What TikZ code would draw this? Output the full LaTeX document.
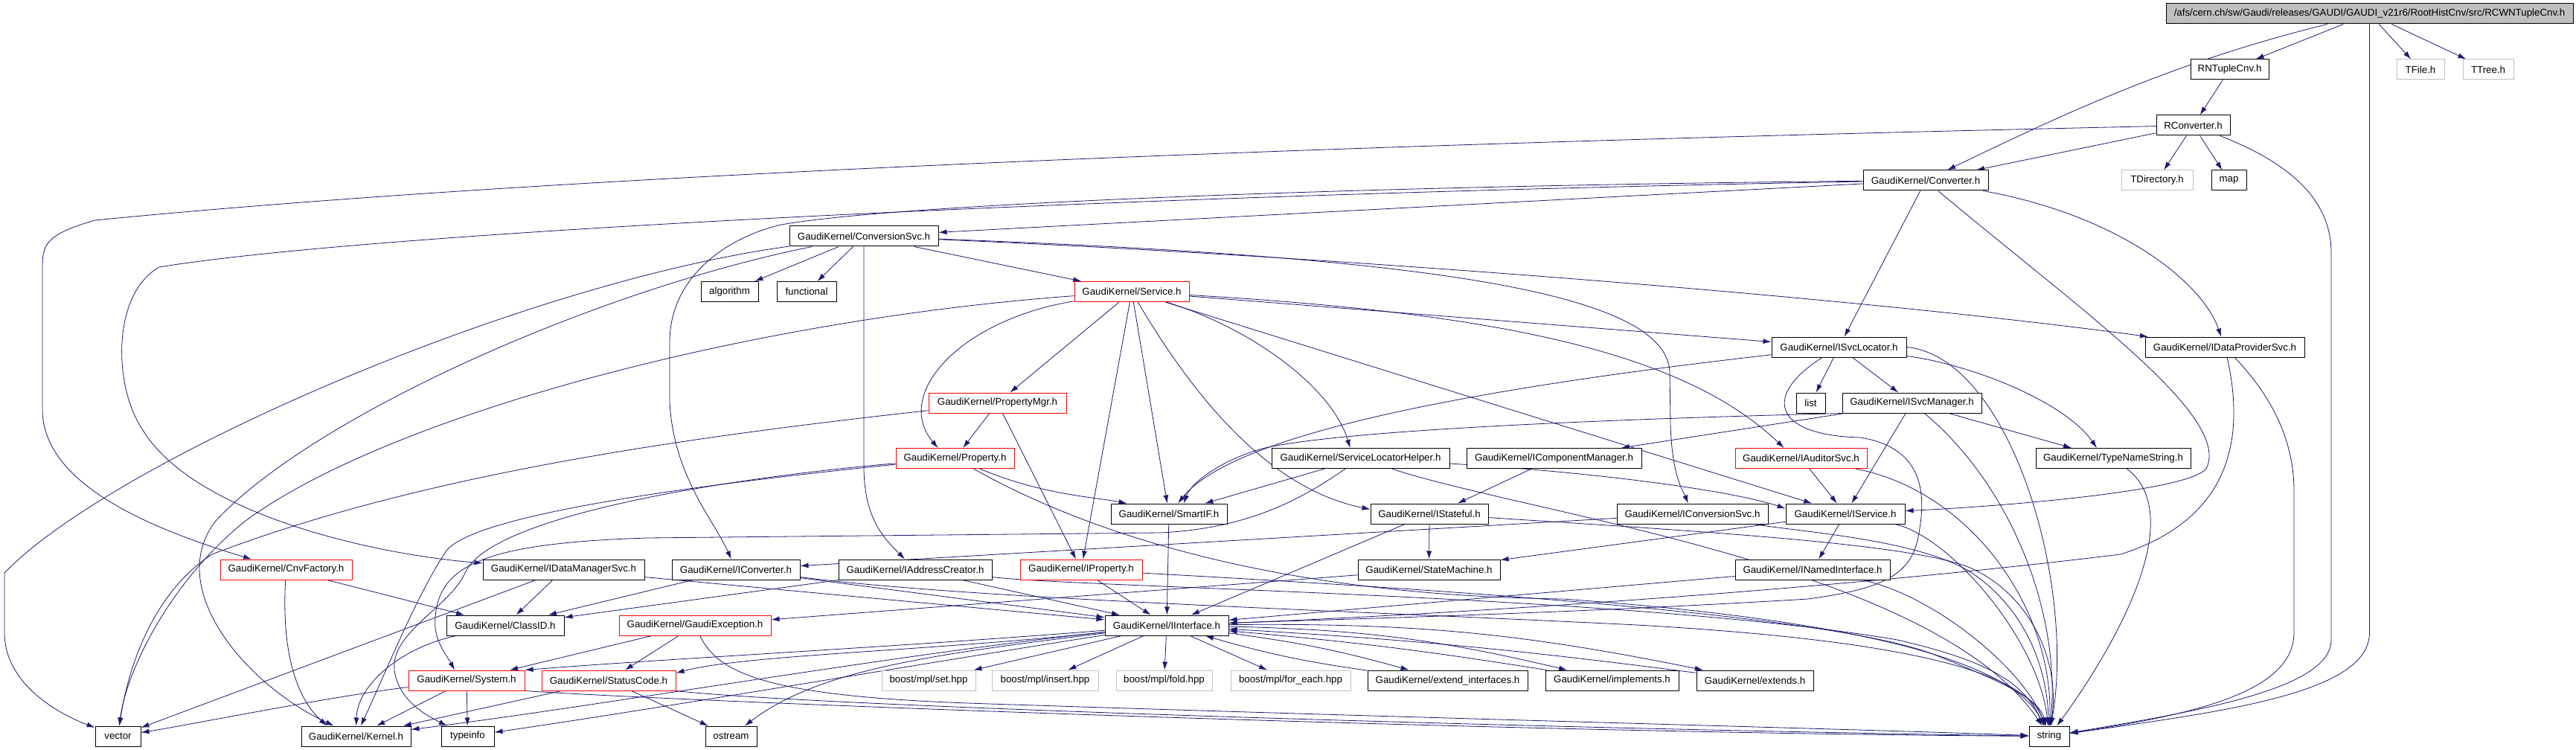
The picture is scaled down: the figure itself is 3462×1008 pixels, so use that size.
\documentclass[tikz,border=0pt]{standalone}
\usepackage{fontspec}
\setmainfont{Liberation Sans}
\usetikzlibrary{arrows.meta}
\definecolor{edgeblue}{HTML}{191970}
\definecolor{sysgray}{HTML}{BFBFBF}
\newcommand{\hdrfont}{\fontsize{13.3}{16}\selectfont}
\pgfdeclarelayer{edges}
\pgfsetlayers{edges,main}
\tikzset{
  hdr/.style={draw=black, fill=white, line width=1pt, minimum height=27pt, inner sep=0pt, font=\hdrfont},
  hdrtrunc/.style={hdr, draw=red},
  hdrsys/.style={hdr, draw=sysgray},
  inc/.style={draw=edgeblue, line width=0.8pt, -{Latex[length=11pt,width=7pt]}}
}
\begin{document}
\begin{tikzpicture}[x=1pt, y=-1pt]
\useasboundingbox (0,0) rectangle (3462,1008);
\node (root) [hdr, fill=sysgray, minimum width=547pt] at (3184.5,18.5) {/afs/cern.ch/sw/Gaudi/releases/GAUDI/GAUDI\_v21r6/RootHistCnv/src/RCWNTupleCnv.h};
\node (rntuple) [hdr, minimum width=105pt] at (2996.5,93.5) {RNTupleCnv.h};
\node (tfile) [hdrsys, minimum width=64pt] at (3253,93.5) {TFile.h};
\node (ttree) [hdrsys, minimum width=68pt] at (3344,93.5) {TTree.h};
\node (rconv) [hdr, minimum width=99pt] at (2947.5,168.5) {RConverter.h};
\node (converter) [hdr, minimum width=168pt] at (2588,242.5) {GaudiKernel/Converter.h};
\node (tdir) [hdrsys, minimum width=96pt] at (2899,242.5) {TDirectory.h};
\node (map) [hdr, minimum width=47pt] at (2995.5,242.5) {map};
\node (convsvc) [hdr, minimum width=200pt] at (1161,317.5) {GaudiKernel/ConversionSvc.h};
\node (algorithm) [hdr, minimum width=77pt] at (980.5,392) {algorithm};
\node (functional) [hdr, minimum width=80pt] at (1084,392) {functional};
\node (service) [hdrtrunc, minimum width=154pt] at (1521,392) {GaudiKernel/Service.h};
\node (svcloc) [hdr, minimum width=181pt] at (2471.5,466.5) {GaudiKernel/ISvcLocator.h};
\node (dataprov) [hdr, minimum width=214pt] at (2990,466.5) {GaudiKernel/IDataProviderSvc.h};
\node (propmgr) [hdrtrunc, minimum width=185pt] at (1340.5,541.5) {GaudiKernel/PropertyMgr.h};
\node (list) [hdr, minimum width=39pt] at (2433.5,541.5) {list};
\node (svcmgr) [hdr, minimum width=187pt] at (2569.5,541.5) {GaudiKernel/ISvcManager.h};
\node (property) [hdrtrunc, minimum width=159pt] at (1283.5,616) {GaudiKernel/Property.h};
\node (slhelper) [hdr, minimum width=239pt] at (1828.5,616) {GaudiKernel/ServiceLocatorHelper.h};
\node (compmgr) [hdr, minimum width=235pt] at (2088.5,616) {GaudiKernel/IComponentManager.h};
\node (auditsvc) [hdrtrunc, minimum width=177pt] at (2420.5,616) {GaudiKernel/IAuditorSvc.h};
\node (typename) [hdr, minimum width=208pt] at (2840,616) {GaudiKernel/TypeNameString.h};
\node (smartif) [hdr, minimum width=156pt] at (1571,690.5) {GaudiKernel/SmartIF.h};
\node (stateful) [hdr, minimum width=158pt] at (1921,690.5) {GaudiKernel/IStateful.h};
\node (iconvsvc) [hdr, minimum width=203pt] at (2274.5,690.5) {GaudiKernel/IConversionSvc.h};
\node (iservice) [hdr, minimum width=160pt] at (2480,690.5) {GaudiKernel/IService.h};
\node (cnvfactory) [hdrtrunc, minimum width=177pt] at (384.5,765.5) {GaudiKernel/CnvFactory.h};
\node (datamgr) [hdr, minimum width=217pt] at (757.5,765.5) {GaudiKernel/IDataManagerSvc.h};
\node (iconverter) [hdr, minimum width=172pt] at (989,765.5) {GaudiKernel/IConverter.h};
\node (addrcreator) [hdr, minimum width=206pt] at (1230,765.5) {GaudiKernel/IAddressCreator.h};
\node (iproperty) [hdrtrunc, minimum width=164pt] at (1453,765.5) {GaudiKernel/IProperty.h};
\node (statemachine) [hdr, minimum width=191pt] at (1920.5,765.5) {GaudiKernel/StateMachine.h};
\node (namediface) [hdr, minimum width=208pt] at (2436,765.5) {GaudiKernel/INamedInterface.h};
\node (classid) [hdr, minimum width=158pt] at (679,840.5) {GaudiKernel/ClassID.h};
\node (gaudiexc) [hdrtrunc, minimum width=204pt] at (934,840.5) {GaudiKernel/GaudiException.h};
\node (iiface) [hdr, minimum width=166pt] at (1568,840.5) {GaudiKernel/IInterface.h};
\node (system) [hdrtrunc, minimum width=156pt] at (627,914.5) {GaudiKernel/System.h};
\node (statuscode) [hdrtrunc, minimum width=180pt] at (818,914.5) {GaudiKernel/StatusCode.h};
\node (mplset) [hdrsys, minimum width=126pt] at (1248,914.5) {boost/mpl/set.hpp};
\node (mplinsert) [hdrsys, minimum width=143pt] at (1404.5,914.5) {boost/mpl/insert.hpp};
\node (mplfold) [hdrsys, minimum width=129pt] at (1564.5,914.5) {boost/mpl/fold.hpp};
\node (mplforeach) [hdrsys, minimum width=161pt] at (1734.5,914.5) {boost/mpl/for\_each.hpp};
\node (extif) [hdr, minimum width=215pt] at (1945.5,914.5) {GaudiKernel/extend\_interfaces.h};
\node (implements) [hdr, minimum width=179pt] at (2166.5,914.5) {GaudiKernel/implements.h};
\node (extends) [hdr, minimum width=157pt] at (2358.5,914.5) {GaudiKernel/extends.h};
\node (vector) [hdr, minimum width=61pt] at (158.5,989.5) {vector};
\node (kernel) [hdr, minimum width=147pt] at (478.5,989.5) {GaudiKernel/Kernel.h};
\node (typeinfo) [hdr, minimum width=71pt] at (628.5,989.5) {typeinfo};
\node (ostream) [hdr, minimum width=69pt] at (982.5,989.5) {ostream};
\node (string) [hdr, minimum width=54pt] at (2754,989.5) {string};
\begin{pgfonlayer}{edges}
\draw[inc] (root) -- (rntuple);
\draw[inc] (root) -- (tfile);
\draw[inc] (root) -- (ttree);
\draw[inc] (root) .. controls (2923,83) and (2780,150) .. (converter);
\draw[inc] (root.south) -- (3184.5,850) .. controls (3184.5,930) and (3000,955) .. (string);
\draw[inc] (rntuple) -- (rconv);
\draw[inc] (rconv) -- (converter);
\draw[inc] (rconv) -- (tdir);
\draw[inc] (rconv) -- (map);
\draw[inc] (rconv) .. controls (3080,220) and (3133,270) .. (3133,340) -- (3133,860) .. controls (3133,925) and (2960,955) .. (string);
\draw[inc] (rconv) .. controls (2200,185) and (900,220) .. (128,296) .. controls (60,315) and (57,330) .. (57,360) -- (57,550) .. controls (57,650) and (200,710) .. (cnvfactory);
\draw[inc] (converter) -- (convsvc);
\draw[inc] (converter) .. controls (1800,250) and (1200,275) .. (1050,302) .. controls (980,318) and (900,370) .. (900,460) -- (900,540) .. controls (905,640) and (960,700) .. (iconverter);
\draw[inc] (converter) .. controls (1500,262) and (500,312) .. (214,359) .. controls (150,395) and (152,520) .. (192,578) .. controls (260,690) and (500,745) .. (datamgr);
\draw[inc] (converter) -- (svcloc);
\draw[inc] (converter) .. controls (2850,290) and (2960,380) .. (dataprov);
\draw[inc] (converter) .. controls (2800,420) and (3000,560) .. (2965,630) .. controls (2940,660) and (2700,680) .. (iservice);
\draw[inc] (convsvc) -- (algorithm);
\draw[inc] (convsvc) -- (functional);
\draw[inc] (convsvc) -- (service);
\draw[inc] (convsvc) -- (1161,630) .. controls (1162,700) and (1190,725) .. ([xshift=-14pt]addrcreator.north);
\draw[inc] (convsvc) .. controls (1900,345) and (2240,390) .. (2244,500) -- (2245,570) .. controls (2247,640) and (2262,660) .. (iconvsvc);
\draw[inc] (convsvc) .. controls (1800,345) and (2500,400) .. (dataprov);
\draw[inc] (convsvc) .. controls (700,380) and (150,620) .. (6,770) -- (6,850) .. controls (6,920) and (80,960) .. (vector);
\draw[inc] (convsvc) .. controls (800,390) and (420,560) .. (290,700) .. controls (220,790) and (330,920) .. (kernel);
\draw[inc] (service) -- (svcloc);
\draw[inc] (service) .. controls (2000,420) and (2260,470) .. ([xshift=-23pt]auditsvc.north);
\draw[inc] (service) -- (propmgr);
\draw[inc] (service) .. controls (1290,430) and (1200,530) .. ([xshift=-23pt]property.north);
\draw[inc] (service) -- (iproperty);
\draw[inc] (service) -- (smartif);
\draw[inc] (service) .. controls (1620,560) and (1720,660) .. ([yshift=6pt]stateful.west);
\draw[inc] (service) -- (iservice);
\draw[inc] (service) .. controls (1680,440) and (1790,520) .. ([xshift=-14pt]slhelper.north);
\draw[inc] (service) .. controls (1000,430) and (520,560) .. (330,700) .. controls (230,780) and (170,900) .. (vector);
\draw[inc] (svcloc) -- (list);
\draw[inc] (svcloc) -- (svcmgr);
\draw[inc] (svcloc) .. controls (2650,490) and (2775,540) .. ([xshift=-22pt]typename.north);
\draw[inc] (svcloc.east) .. controls (2700,480) and (2790,780) .. (string);
\draw[inc] (svcloc) .. controls (2000,520) and (1660,580) .. ([xshift=12pt]smartif.north);
\draw[inc] (svcloc) .. controls (2370,530) and (2380,585) .. (2500,588) .. controls (2575,600) and (2590,650) .. (2580,710) .. controls (2572,770) and (2540,790) .. (2430,805) .. controls (2100,825) and (1800,832) .. (iiface);
\draw[inc] (svcmgr) -- ([xshift=-56pt]typename.north);
\draw[inc] (svcmgr) -- (iservice);
\draw[inc] (svcmgr) -- (compmgr);
\draw[inc] (svcmgr.south west) .. controls (2100,565) and (1800,580) .. (1700,602) .. controls (1640,618) and (1600,650) .. ([xshift=20pt]smartif.north);
\draw[inc] (svcmgr) .. controls (2700,650) and (2770,820) .. (string);
\draw[inc] (dataprov) .. controls (3060,540) and (3083,600) .. (3083,660) -- (3083,850) .. controls (3083,930) and (2950,960) .. (string);
\draw[inc] (dataprov) .. controls (3020,600) and (2990,700) .. (2850,745) .. controls (2400,800) and (1850,830) .. (iiface);
\draw[inc] (propmgr) -- (property);
\draw[inc] (propmgr) -- (iproperty);
\draw[inc] (propmgr) .. controls (900,590) and (560,640) .. (285,745) .. controls (200,800) and (170,910) .. (vector);
\draw[inc] (property) .. controls (1400,665) and (1470,668) .. ([xshift=22pt]smartif.north west);
\draw[inc] (property) .. controls (1450,710) and (1700,800) .. (2100,805) .. controls (2450,830) and (2700,880) .. (string);
\draw[inc] (property) .. controls (1000,640) and (660,690) .. (625,770) .. controls (605,815) and (525,850) .. (530,900) .. controls (535,940) and (570,960) .. (typeinfo);
\draw[inc] (property) .. controls (950,650) and (640,690) .. (600,740) .. controls (560,800) and (520,900) .. (kernel);
\draw[inc] (slhelper) -- (smartif);
\draw[inc] (slhelper) .. controls (2150,635) and (2330,660) .. ([yshift=7pt]iservice.west);
\draw[inc] (slhelper) .. controls (2050,690) and (2600,760) .. (string);
\draw[inc] (slhelper) .. controls (1750,670) and (1680,710) .. (1560,716) -- (870,723) .. controls (650,730) and (590,760) .. (585,830) .. controls (582,860) and (600,880) .. ([xshift=-16pt]system.north);
\draw[inc] (compmgr) -- ([xshift=38pt]stateful.north);
\draw[inc] (auditsvc) -- (iservice);
\draw[inc] (auditsvc) .. controls (2650,660) and (2760,820) .. (string);
\draw[inc] (typename) .. controls (2950,700) and (2820,900) .. (string);
\draw[inc] (smartif) -- (iiface);
\draw[inc] (stateful) -- (statemachine);
\draw[inc] (stateful) -- (iiface);
\draw[inc] (stateful) .. controls (2300,715) and (2550,730) .. (2640,760) .. controls (2720,790) and (2770,880) .. (string);
\draw[inc] (iconvsvc) -- (iconverter);
\draw[inc] (iconvsvc) .. controls (2420,715) and (2580,725) .. (2650,770) .. controls (2710,810) and (2750,880) .. (string);
\draw[inc] (iservice) -- (namediface);
\draw[inc] (iservice) -- (statemachine);
\draw[inc] (iservice) .. controls (2620,720) and (2740,860) .. (string);
\draw[inc] (namediface) -- (iiface);
\draw[inc] (namediface) .. controls (2600,800) and (2720,900) .. (string);
\draw[inc] (statemachine) -- (gaudiexc);
\draw[inc] (iconverter) -- (iiface);
\draw[inc] (iconverter) -- (classid);
\draw[inc] ([yshift=-10pt]iconverter.east) .. controls (1300,805) and (1800,820) .. (2200,840) .. controls (2550,860) and (2720,900) .. (string);
\draw[inc] (addrcreator) -- (iiface);
\draw[inc] (addrcreator) -- (classid);
\draw[inc] ([yshift=-10pt]addrcreator.east) .. controls (1450,790) and (2200,800) .. (2550,860) .. controls (2680,890) and (2720,920) .. (string);
\draw[inc] (iproperty) -- (iiface);
\draw[inc] (iproperty) .. controls (1800,785) and (2450,820) .. (2600,880) .. controls (2700,920) and (2740,940) .. (string);
\draw[inc] (datamgr) -- (classid);
\draw[inc] (datamgr) -- (iiface);
\draw[inc] (datamgr) -- (vector);
\draw[inc] (cnvfactory) -- (classid);
\draw[inc] (cnvfactory) .. controls (378,880) and (400,940) .. ([xshift=-39pt]kernel.north);
\draw[inc] (classid) .. controls (540,870) and (480,920) .. (kernel);
\draw[inc] (gaudiexc) -- (system);
\draw[inc] (gaudiexc) -- (statuscode);
\draw[inc] (gaudiexc) .. controls (965,905) and (1030,935) .. (1300,945) .. controls (1900,965) and (2500,980) .. (string);
\draw[inc] (system) -- (kernel);
\draw[inc] (system) -- (typeinfo);
\draw[inc] (system) .. controls (450,935) and (250,975) .. (vector);
\draw[inc] (system.south east) .. controls (900,942) and (2000,985) .. (string);
\draw[inc] (statuscode) -- (kernel);
\draw[inc] (statuscode) -- (ostream);
\draw[inc] (statuscode.south east) .. controls (1100,950) and (2100,980) .. (string);
\draw[inc] (iiface) -- (mplset);
\draw[inc] (iiface) -- (mplinsert);
\draw[inc] (iiface) -- (mplfold);
\draw[inc] (iiface) -- (mplforeach);
\draw[inc] (iiface) to[bend left=4] (extif);
\draw[inc] (extif) to[bend left=4] (iiface);
\draw[inc] (iiface) to[bend left=6] (implements);
\draw[inc] (implements) to[bend right=2] (iiface);
\draw[inc] (iiface) to[bend left=6] (extends);
\draw[inc] (extends) to[bend right=2] (iiface);
\draw[inc] (iiface) .. controls (1250,875) and (1000,880) .. ([yshift=10pt]statuscode.east);
\draw[inc] (iiface) .. controls (1200,870) and (900,885) .. (system.north east);
\draw[inc] (iiface) .. controls (1200,880) and (800,950) .. (kernel);
\draw[inc] (iiface) .. controls (1250,890) and (900,950) .. (typeinfo);
\draw[inc] (iiface) .. controls (1250,880) and (1100,900) .. (ostream);
\end{pgfonlayer}
\end{tikzpicture}
\end{document}
